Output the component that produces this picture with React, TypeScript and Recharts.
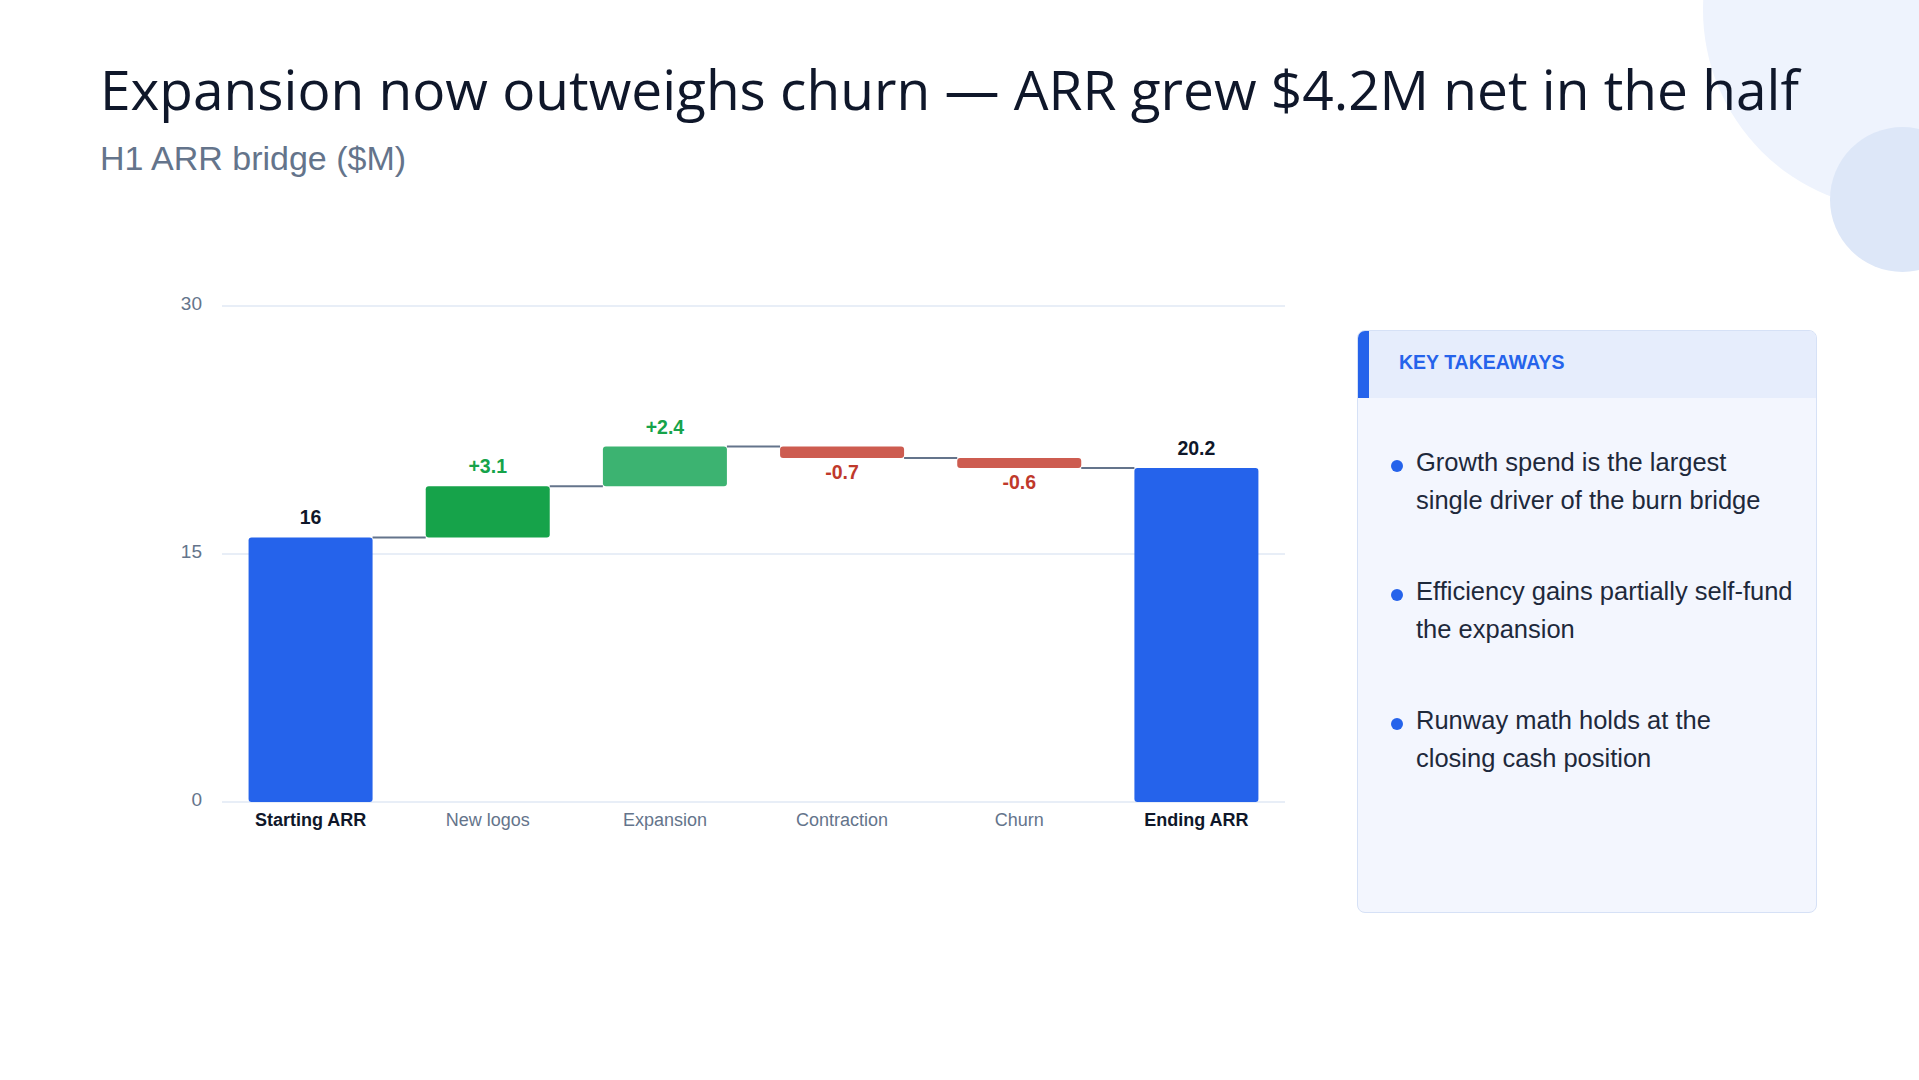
import { Bar, BarChart, CartesianGrid, LabelList, XAxis, YAxis } from "recharts";

const STEPS = ["Starting ARR", "New logos", "Expansion", "Contraction", "Churn", "Ending ARR"];
const STEP_VALUES = [16, 3.1, 2.4, -0.7, -0.6, 20.2];
const STEP_KINDS = ["total", "delta", "delta", "delta", "delta", "total"];
const Y_TICKS = [0, 15, 30];
const TAKEAWAYS = [
  ["Growth spend is the largest", "single driver of the burn bridge"],
  ["Efficiency gains partially self-fund", "the expansion"],
  ["Runway math holds at the", "closing cash position"],
];

const BAR_COLORS = ["#2563eb", "#16a34a", "#3cb371", "#cd5c50", "#cd5c50", "#2563eb"];
const CATEGORY_GAP = 0.15;

const buildRows = () => {
  let running = 0;
  return STEPS.map((step, i) => {
    const value = STEP_VALUES[i];
    if (STEP_KINDS[i] === "total") {
      running = value;
      return { step, base: 0, size: value };
    }
    const next = running + value;
    const row = { step, base: Math.min(running, next), size: Math.abs(value) };
    running = next;
    return row;
  });
};

const rows = buildRows();

// visible bar plus the connector to the next step
const StepShape = (props: any) => {
  const { x, y, width, height, payload } = props;
  const i = STEPS.indexOf(payload.step);
  const gap = (width * 2 * CATEGORY_GAP) / (1 - 2 * CATEGORY_GAP);
  const levelY = STEP_VALUES[i] < 0 ? y + height : y;
  return (
    <g>
      {i < STEPS.length - 1 && (
        <line
          x1={x + width}
          x2={x + width + gap}
          y1={levelY}
          y2={levelY}
          stroke="#64748b"
          strokeWidth={2}
        />
      )}
      <rect x={x} y={y} width={width} height={height} rx={3} ry={3} fill={BAR_COLORS[i]} />
    </g>
  );
};

const StepLabel = (props: any) => {
  const { x, y, width, height, index } = props;
  const value = STEP_VALUES[index];
  const total = STEP_KINDS[index] === "total";
  const text = total ? String(value) : value > 0 ? `+${value}` : `${value}`;
  const fill = total ? "#0f172a" : value > 0 ? "#16a34a" : "#c0392b";
  const cx = x + width / 2;
  const cy = value < 0 && !total ? y + height + 14 : y - 20;
  return (
    <text
      x={cx}
      y={cy}
      textAnchor="middle"
      dominantBaseline="central"
      fontSize={19.5}
      fontWeight={700}
      fill={fill}
    >
      {text}
    </text>
  );
};

const StepTick = ({ x, y, payload }: any) => {
  const total = STEP_KINDS[STEPS.indexOf(payload.value)] === "total";
  return (
    <text
      x={x}
      y={y}
      dy="0.71em"
      textAnchor="middle"
      fontSize={18}
      fontWeight={total ? 700 : 400}
      fill={total ? "#0f172a" : "#64748b"}
    >
      {payload.value}
    </text>
  );
};

export default function App() {
  return (
    <div
      style={{
        position: "absolute",
        left: 0,
        top: 0,
        width: 1919,
        height: 1080,
        overflow: "hidden",
        background: "#ffffff",
        fontFamily: "'Liberation Sans', Arial, sans-serif",
      }}
    >
      <div
        style={{
          position: "absolute",
          left: 1703,
          top: -190,
          width: 400,
          height: 400,
          borderRadius: "50%",
          background: "#eef3fd",
        }}
      />
      <div
        style={{
          position: "absolute",
          left: 1830,
          top: 127,
          width: 145,
          height: 145,
          borderRadius: "50%",
          background: "#dde7f8",
        }}
      />

      <div
        style={{
          position: "absolute",
          left: 100,
          top: 61,
          fontFamily: "'Open Sans', sans-serif",
          fontSize: 55,
          lineHeight: "55px",
          color: "#0f172a",
          whiteSpace: "nowrap",
        }}
      >
        Expansion now outweighs churn — ARR grew $4.2M net in the half
      </div>
      <div
        style={{
          position: "absolute",
          left: 100,
          top: 141,
          fontSize: 34,
          lineHeight: "34px",
          color: "#64748b",
          whiteSpace: "nowrap",
        }}
      >
        H1 ARR bridge ($M)
      </div>

      <div style={{ position: "absolute", left: 140, top: 260 }}>
        <BarChart
          width={1160}
          height={582}
          data={rows}
          barCategoryGap={`${CATEGORY_GAP * 100}%`}
          margin={{ top: 46, right: 15, left: 0, bottom: 0 }}
        >
          <CartesianGrid vertical={false} stroke="#e0e8f5" strokeWidth={1.5} />
          <XAxis
            dataKey="step"
            axisLine={false}
            tickLine={false}
            tickSize={0}
            tickMargin={11}
            height={40}
            interval={0}
            tick={<StepTick />}
          />
          <YAxis
            domain={[0, 30]}
            ticks={Y_TICKS}
            interval={0}
            width={82}
            axisLine={false}
            tickLine={false}
            tickSize={0}
            tickMargin={20}
            tick={{ fontSize: 19, fill: "#64748b", dy: -3 }}
          />
          <Bar dataKey="base" stackId="bridge" fill="transparent" isAnimationActive={false} />
          <Bar dataKey="size" stackId="bridge" shape={<StepShape />} isAnimationActive={false}>
            <LabelList dataKey="size" content={<StepLabel />} />
          </Bar>
        </BarChart>
      </div>

      <div
        style={{
          position: "absolute",
          left: 1357,
          top: 330,
          width: 458,
          height: 581,
          background: "#f3f6fe",
          border: "1.5px solid #d6e1f6",
          borderRadius: 8,
          overflow: "hidden",
        }}
      >
        <div
          style={{
            height: 67,
            background: "#e6edfc",
            borderLeft: "11px solid #2563eb",
            boxSizing: "border-box",
            paddingLeft: 30,
            paddingBottom: 4,
            display: "flex",
            alignItems: "center",
            color: "#2563eb",
            fontWeight: 700,
            fontSize: 19.5,
          }}
        >
          KEY TAKEAWAYS
        </div>
        {TAKEAWAYS.map((lines, i) => (
          <div
            key={i}
            style={{
              position: "absolute",
              left: 58,
              top: 112 + i * 129,
              fontSize: 25.5,
              lineHeight: "38px",
              color: "#1e293b",
              whiteSpace: "nowrap",
            }}
          >
            <span
              style={{
                position: "absolute",
                left: -25,
                top: 17,
                width: 12,
                height: 12,
                borderRadius: "50%",
                background: "#2563eb",
              }}
            />
            {lines[0]}
            <br />
            {lines[1]}
          </div>
        ))}
      </div>
    </div>
  );
}
